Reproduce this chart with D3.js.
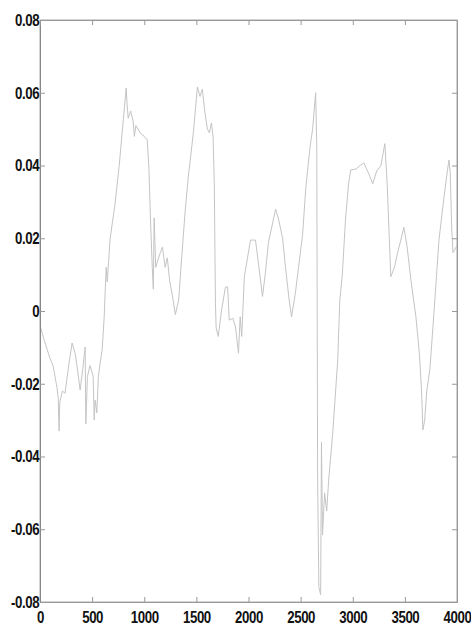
<!DOCTYPE html>
<html>
<head>
<meta charset="utf-8">
<script src="https://cdn.jsdelivr.net/npm/d3@7/dist/d3.min.js"></script>
<style>
  html, body { margin: 0; padding: 0; background: #fff; }
  svg { display: block; }
  .tick text { font-family: "Liberation Sans", Arial, sans-serif; }
</style>
</head>
<body>
<svg id="chart" width="471" height="637"></svg>
<script>
const xValues = [0,40,96,125,150,163,175,183,190,215,240,275,308,340,385,410,433,440,455,480,510,520,529,545,560,577,596,615,635,645,673,721,760,788,810,827,835,846,870,894,905,920,960,1000,1029,1045,1060,1077,1087,1095,1110,1130,1154,1175,1200,1221,1245,1269,1298,1330,1360,1394,1423,1471,1510,1535,1557,1580,1606,1625,1644,1660,1672,1683,1690,1710,1740,1779,1800,1815,1850,1875,1904,1920,1935,1960,2019,2067,2100,2134,2160,2192,2230,2260,2290,2327,2355,2390,2413,2450,2480,2519,2550,2590,2615,2644,2655,2663,2675,2692,2700,2710,2730,2750,2769,2808,2856,2875,2900,2930,2960,2981,3030,3070,3106,3150,3192,3230,3270,3308,3330,3365,3400,3430,3461,3490,3520,3560,3606,3640,3660,3673,3690,3710,3740,3780,3827,3870,3905,3923,3935,3950,3962,4000];
const yValues = [-0.004,-0.008,-0.013,-0.015,-0.019,-0.021,-0.024,-0.033,-0.025,-0.022,-0.0226,-0.015,-0.0088,-0.012,-0.0217,-0.016,-0.0099,-0.031,-0.018,-0.015,-0.018,-0.030,-0.0245,-0.028,-0.018,-0.0143,-0.0107,-0.002,0.012,0.008,0.020,0.0297,0.040,0.049,0.056,0.0613,0.057,0.053,0.055,0.052,0.048,0.051,0.049,0.048,0.047,0.039,0.025,0.012,0.006,0.0256,0.012,0.014,0.016,0.0176,0.012,0.0146,0.008,0.0044,-0.001,0.003,0.015,0.028,0.037,0.049,0.0616,0.059,0.061,0.055,0.050,0.049,0.0517,0.048,0.035,0.002,-0.0047,-0.007,0.000,0.0066,0.0066,-0.0025,-0.002,-0.0044,-0.0116,-0.0016,-0.007,0.0094,0.0195,0.0195,0.012,0.004,0.010,0.019,0.024,0.028,0.025,0.020,0.012,0.003,-0.0016,0.005,0.012,0.021,0.034,0.045,0.050,0.060,0.045,-0.046,-0.076,-0.078,-0.036,-0.0616,-0.050,-0.055,-0.0465,-0.0335,-0.0135,0.0025,0.010,0.025,0.035,0.0388,0.039,0.040,0.0407,0.038,0.035,0.0385,0.040,0.046,0.035,0.0094,0.012,0.016,0.0195,0.023,0.018,0.008,-0.0016,-0.012,-0.022,-0.0327,-0.030,-0.022,-0.016,0.000,0.0195,0.030,0.038,0.0415,0.038,0.022,0.016,0.018];
const xTicks = [0,500,1000,1500,2000,2500,3000,3500,4000];
const yTicks = [-0.08,-0.06,-0.04,-0.02,0,0.02,0.04,0.06,0.08];
const xTickLabels = ["0","500","1000","1500","2000","2500","3000","3500","4000"];
const yTickLabels = ["-0.08","-0.06","-0.04","-0.02","0","0.02","0.04","0.06","0.08"];

(function () {
const svg = d3.select("#chart");
const mLeft = 40, mRight = 457, mTop = 20, mBottom = 602;
const x = d3.scaleLinear().domain([0, 4000]).range([mLeft, mRight]);
const y = d3.scaleLinear().domain([-0.08, 0.08]).range([mBottom, mTop]);

const data = xValues.map((v, i) => ({ x: v, y: yValues[i] }));

svg.append("rect")
  .attr("x", mLeft).attr("y", mTop)
  .attr("width", mRight - mLeft).attr("height", mBottom - mTop)
  .attr("fill", "none").attr("stroke", "#a8a8a8").attr("stroke-width", 1);

svg.append("path")
  .datum(data)
  .attr("fill", "none")
  .attr("stroke", "#c4c4c4")
  .attr("stroke-width", 1)
  .attr("d", d3.line().x(d => x(d.x)).y(d => y(d.y)));

function styleAxis(g) {
  g.select(".domain").attr("stroke", "#999");
  g.selectAll(".tick line").attr("stroke", "#999");
  g.selectAll(".tick text")
    .attr("fill", "#111")
    .attr("font-size", "17px")
    .attr("font-weight", "bold")
    .attr("letter-spacing", "-0.5px")
    .attr("transform", "scale(0.78,1)");
}

const xAxisB = svg.append("g").attr("transform", `translate(0,${mBottom})`)
  .call(d3.axisBottom(x).tickValues(xTicks).tickFormat((d, i) => xTickLabels[i]).tickSizeInner(-5).tickSizeOuter(0).tickPadding(9));
styleAxis(xAxisB);

const yAxisL = svg.append("g").attr("transform", `translate(${mLeft},0)`)
  .call(d3.axisLeft(y).tickValues(yTicks).tickFormat((d, i) => yTickLabels[i]).tickSizeInner(-5).tickSizeOuter(0).tickPadding(1));
styleAxis(yAxisL);
yAxisL.select(".domain").attr("stroke", "#888");

const xAxisT = svg.append("g").attr("transform", `translate(0,${mTop})`)
  .call(d3.axisTop(x).tickValues(xTicks).tickFormat("").tickSizeInner(-5).tickSizeOuter(0));
styleAxis(xAxisT);

const yAxisR = svg.append("g").attr("transform", `translate(${mRight},0)`)
  .call(d3.axisRight(y).tickValues(yTicks).tickFormat("").tickSizeInner(-5).tickSizeOuter(0));
styleAxis(yAxisR);
})();
</script>
</body>
</html>
